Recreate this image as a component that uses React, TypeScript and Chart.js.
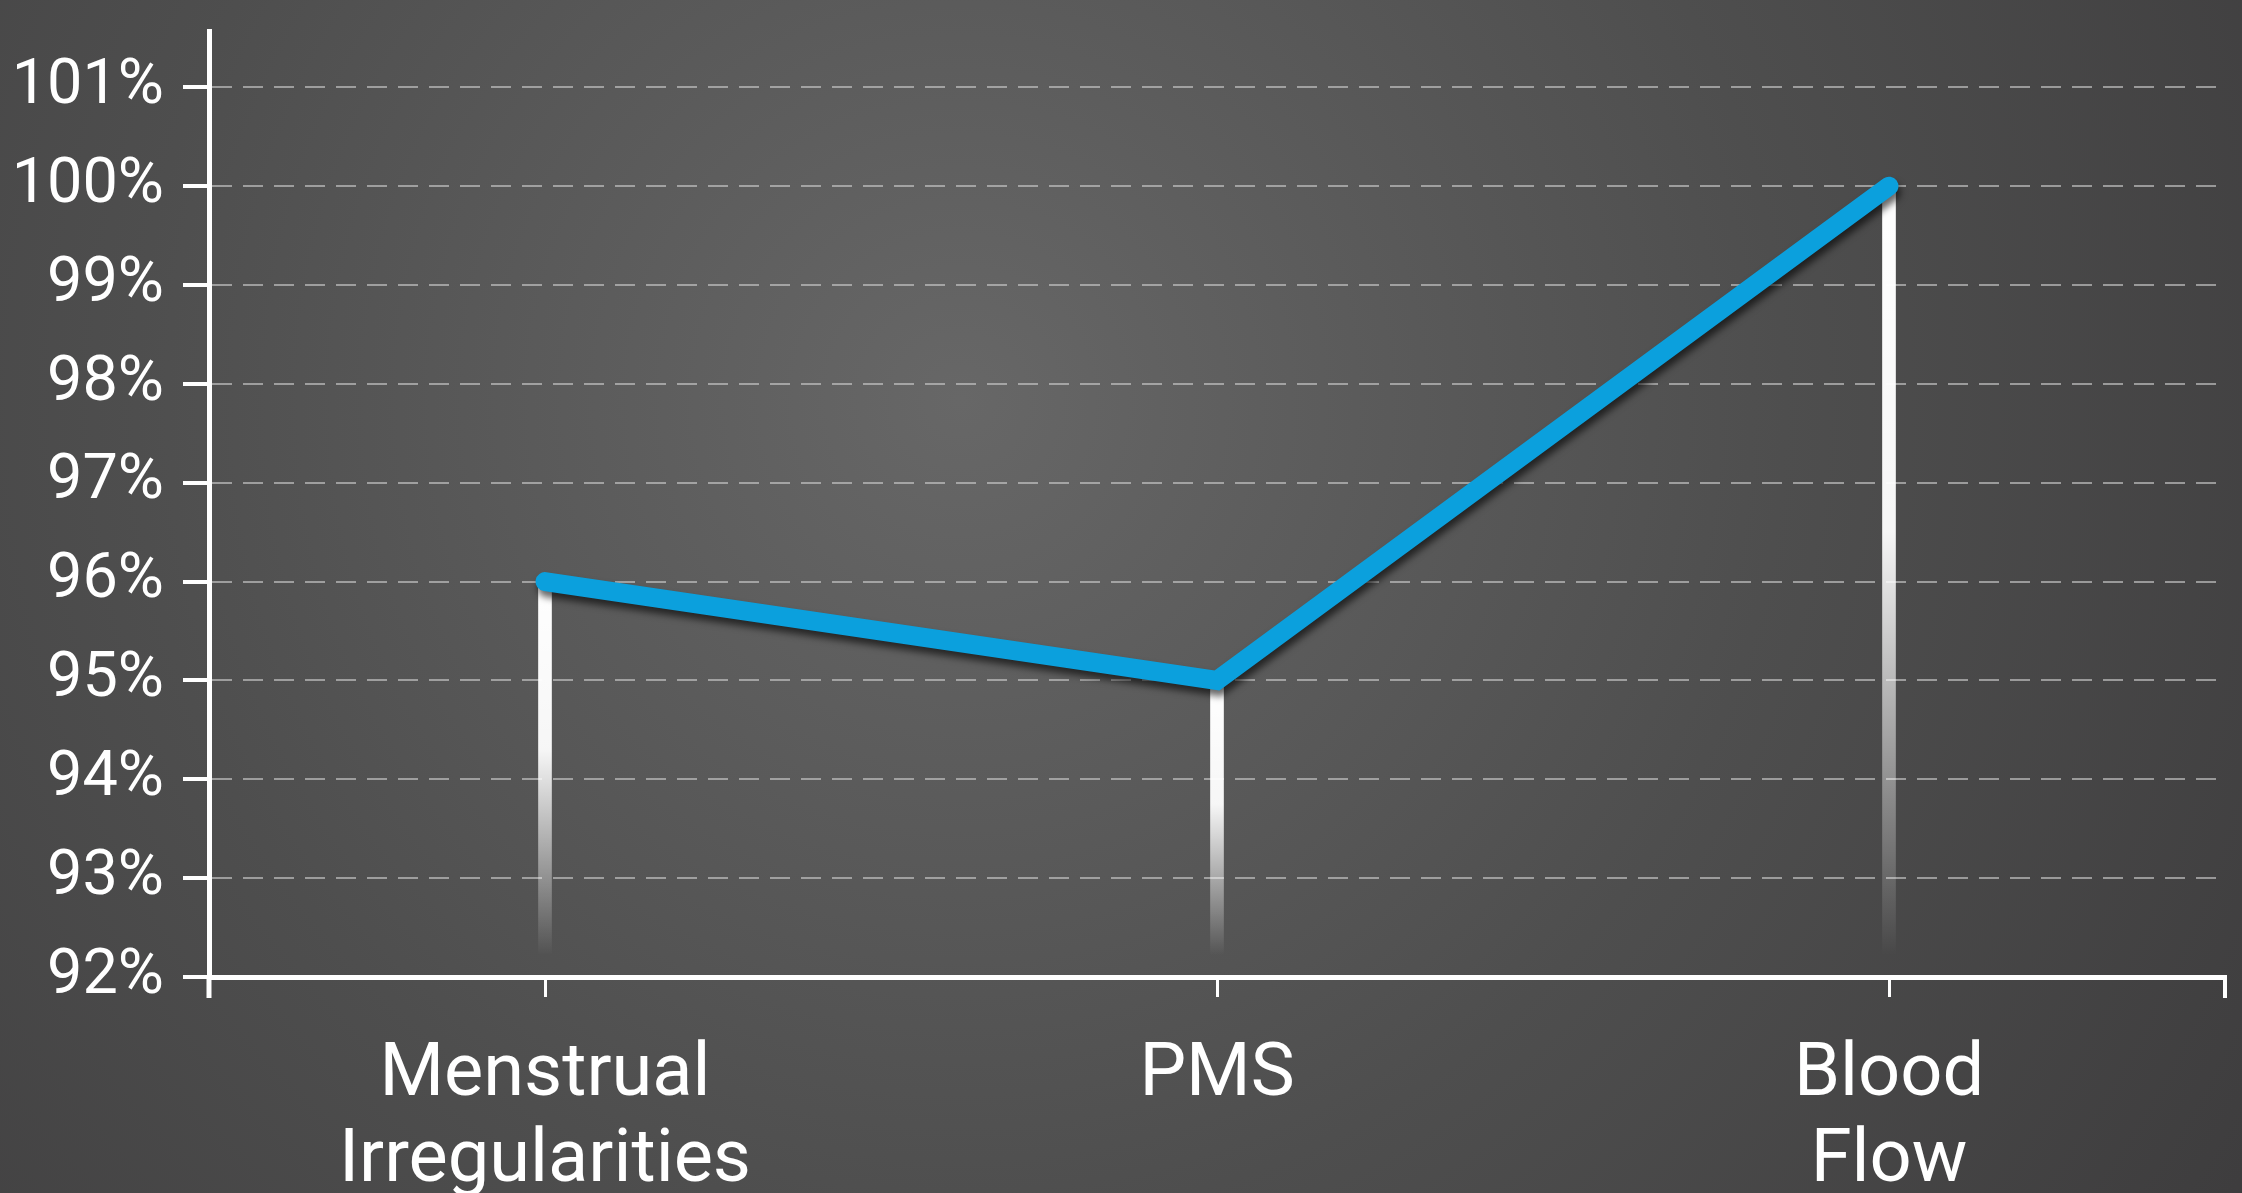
import React, { useEffect, useRef } from "react";
import { Chart, registerables } from "chart.js";

Chart.register(...registerables);

const categories: (string | string[])[] = [["Menstrual", "Irregularities"], "PMS", ["Blood", "Flow"]];
const values: number[] = [96, 95, 100];
const yTickValues: number[] = [92, 93, 94, 95, 96, 97, 98, 99, 100, 101];
const yMin = 92;
const yMax = 101.57;

const FONT = "Roboto, 'Liberation Sans', sans-serif";

const backgroundPlugin = {
  id: "bgGradient",
  beforeDraw(chart: any) {
    const { ctx, width, height } = chart;
    ctx.save();
    const g = ctx.createRadialGradient(960, 400, 0, 960, 400, 1500);
    g.addColorStop(0, "#676767");
    g.addColorStop(0.55, "#4e4e4e");
    g.addColorStop(1, "#3e3d3e");
    ctx.fillStyle = g;
    ctx.fillRect(0, 0, width, height);
    ctx.restore();
  },
};

const shadowPlugin = {
  id: "lineShadow",
  beforeDatasetDraw(chart: any, args: any) {
    if (chart.data.datasets[args.index].type === "line") {
      const ctx = chart.ctx;
      ctx.save();
      ctx.shadowColor = "rgba(0,0,0,0.6)";
      ctx.shadowBlur = 7;
      ctx.shadowOffsetX = 2;
      ctx.shadowOffsetY = 6;
    }
  },
  afterDatasetDraw(chart: any, args: any) {
    if (chart.data.datasets[args.index].type === "line") {
      chart.ctx.restore();
    }
  },
};

const edgeTicksPlugin = {
  id: "edgeTicks",
  afterDraw(chart: any) {
    const { ctx, chartArea } = chart;
    ctx.save();
    ctx.strokeStyle = "#ffffff";
    ctx.lineCap = "butt";
    ctx.lineWidth = 5;
    ctx.beginPath();
    ctx.moveTo(chartArea.left, chartArea.bottom);
    ctx.lineTo(chartArea.left, chartArea.bottom + 21);
    ctx.stroke();
    ctx.lineWidth = 4;
    ctx.beginPath();
    ctx.moveTo(chartArea.right, chartArea.bottom - 2);
    ctx.lineTo(chartArea.right, chartArea.bottom + 21);
    ctx.stroke();
    ctx.restore();
  },
};

export default function App() {
  const canvasRef = useRef<HTMLCanvasElement | null>(null);

  useEffect(() => {
    if (!canvasRef.current) return;
    const chart = new Chart(canvasRef.current, {
      type: "bar",
      data: {
        labels: categories,
        datasets: [
          {
            type: "line",
            data: values,
            borderColor: "#0ba0dd",
            borderWidth: 19,
            borderCapStyle: "round",
            borderJoinStyle: "miter",
            pointRadius: 0,
            tension: 0,
            order: 0,
          } as any,
          {
            type: "bar",
            data: values,
            barThickness: 13,
            borderWidth: 0,
            order: 1,
            backgroundColor: (c: any) => {
              const ch = c.chart;
              const area = ch.chartArea;
              if (!area || c.raw == null) return "#ffffff";
              const top = ch.scales.y.getPixelForValue(c.raw);
              const bottom = area.bottom - 22;
              const g = ch.ctx.createLinearGradient(0, top, 0, bottom);
              g.addColorStop(0, "rgba(255,255,255,1)");
              g.addColorStop(0.45, "rgba(255,255,255,0.95)");
              g.addColorStop(0.8, "rgba(255,255,255,0.35)");
              g.addColorStop(1, "rgba(255,255,255,0)");
              return g;
            },
          } as any,
        ],
      },
      options: {
        animation: false,
        responsive: true,
        maintainAspectRatio: false,
        layout: { padding: { top: 31, right: 17, left: 0, bottom: 0 } },
        plugins: {
          legend: { display: false },
          tooltip: { enabled: false },
        },
        scales: {
          x: {
            offset: true,
            grid: {
              offset: false,
              drawOnChartArea: false,
              drawTicks: true,
              tickLength: 20,
              tickColor: "#ffffff",
              tickWidth: 3,
              color: "#ffffff",
            },
            border: { display: true, color: "#ffffff", width: 5 },
            ticks: {
              color: "#ffffff",
              padding: 36,
              maxRotation: 0,
              autoSkip: false,
              font: { family: FONT, size: 74, weight: "400", lineHeight: 1.17 },
            },
            afterFit: (scale: any) => {
              scale.height = 216;
              scale.paddingLeft = 0;
              scale.paddingRight = 0;
            },
          },
          y: {
            min: yMin,
            max: yMax,
            afterBuildTicks: (scale: any) => {
              scale.ticks = yTickValues.map((v) => ({ value: v }));
            },
            grid: {
              color: "rgba(200,200,200,0.65)",
              lineWidth: 2,
              tickColor: "#ffffff",
              tickWidth: 4,
              tickLength: 26,
              tickBorderDash: [],
            },
            border: { display: true, color: "#ffffff", width: 5, dash: [20, 11] },
            ticks: {
              color: "#ffffff",
              padding: 19,
              font: { family: FONT, size: 63, weight: "400" },
              callback: (v: any) => `${v}%`,
            },
            afterFit: (scale: any) => {
              scale.width = 209;
              scale.paddingTop = 0;
              scale.paddingBottom = 0;
            },
          },
        },
      },
      plugins: [backgroundPlugin, shadowPlugin, edgeTicksPlugin],
    });
    return () => chart.destroy();
  }, []);

  return (
    <div style={{ position: "absolute", left: 0, top: 0, width: 2242, height: 1193 }}>
      <canvas ref={canvasRef} />
    </div>
  );
}
